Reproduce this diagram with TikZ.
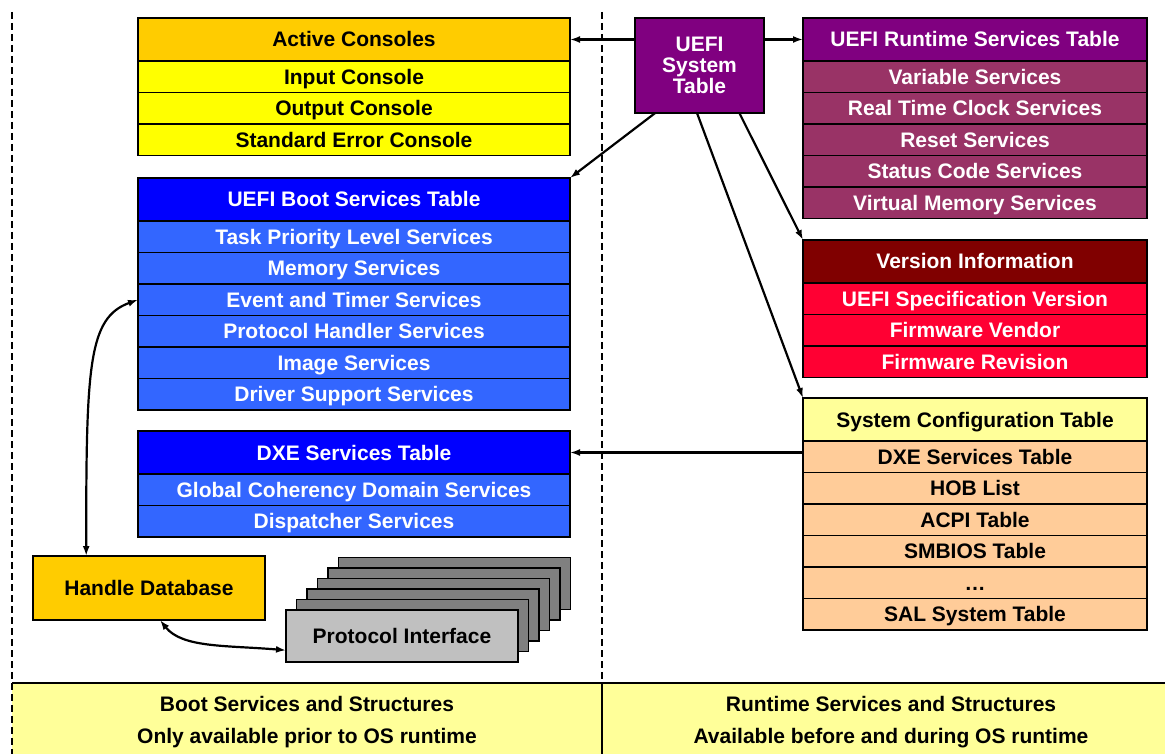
\documentclass[tikz,border=0pt]{standalone}
\usepackage{fontspec}
\setmainfont{Liberation Sans}
\usetikzlibrary{arrows.meta,positioning}
\definecolor{conHdr}{HTML}{FFCC00}
\definecolor{conRow}{HTML}{FFFF00}
\definecolor{bootHdr}{HTML}{0000FF}
\definecolor{bootRow}{HTML}{3366FF}
\definecolor{rtHdr}{HTML}{800080}
\definecolor{rtRow}{HTML}{993366}
\definecolor{verHdr}{HTML}{800000}
\definecolor{verRow}{HTML}{FF0033}
\definecolor{cfgHdr}{HTML}{FFFF99}
\definecolor{cfgRow}{HTML}{FFCC99}
\definecolor{piFront}{HTML}{C0C0C0}
\definecolor{piBack}{HTML}{808080}

\begin{document}
\begin{tikzpicture}[x=1pt,y=1pt,yscale=-1, % flip y axis, one pt per pixel
    font=\fontsize{21}{21}\selectfont\bfseries,
    box/.style={draw, line width=1.6pt, outer sep=0pt, inner sep=0pt, text height=19pt, text depth=4pt},
    lhdr/.style={box, minimum width=432pt, minimum height=43pt},
    lrow/.style={box, minimum width=432pt, minimum height=31.5pt},
    rhdr/.style={box, minimum width=344pt, minimum height=43pt},
    rrow/.style={box, minimum width=344pt, minimum height=31.5pt},
    arr/.style={line width=2.2pt, -{Latex[length=10pt,width=7pt]}},
    darr/.style={line width=2.2pt, {Latex[length=10pt,width=7pt]}-{Latex[length=10pt,width=7pt]}},
    sep/.style={line width=2pt, dash pattern=on 7pt off 4pt}]
  \useasboundingbox (0,0) rectangle (1165,754);

  % bottom band and separators
  \fill[cfgHdr] (12,683) rectangle (1165,754);
  \draw[line width=2pt] (12,683) -- (1165,683);
  \draw[line width=2pt] (602,683) -- (602,754);
  \draw[sep] (12,12) -- (12,754);
  \draw[sep] (602,12) -- (602,683);
  \node (bootlbl) at (307,704) {Boot Services and Structures};
  \node (bootsub) at (307,738) {Only available prior to OS runtime};
  \node (rtlbl) at (891,704) {Runtime Services and Structures};
  \node (rtsub) at (891,738) {Available before and during OS runtime};

  % boot side tables
  \node[lhdr, fill=conHdr] (ac0) at (354,39.5) {Active Consoles};
  \foreach \txt [count=\i] in {Input Console, Output Console, Standard Error Console}{
      \pgfmathtruncatemacro\j{\i-1}
      \node[lrow, fill=conRow, below=0pt of ac\j] (ac\i) {\txt};
    }
  \node[lhdr, fill=bootHdr, text=white] (bs0) at (354,199.5) {UEFI Boot Services Table};
  \foreach \txt [count=\i] in {Task Priority Level Services, Memory Services, Event and Timer Services,
      Protocol Handler Services, Image Services, Driver Support Services}{
      \pgfmathtruncatemacro\j{\i-1}
      \node[lrow, fill=bootRow, text=white, below=0pt of bs\j] (bs\i) {\txt};
    }
  \node[lhdr, fill=bootHdr, text=white] (dxe0) at (354,452.5) {DXE Services Table};
  \foreach \txt [count=\i] in {Global Coherency Domain Services, Dispatcher Services}{
      \pgfmathtruncatemacro\j{\i-1}
      \node[lrow, fill=bootRow, text=white, below=0pt of dxe\j] (dxe\i) {\txt};
    }

  % handle database and protocol stack
  \node[box, fill=conHdr, minimum width=232pt, minimum height=64pt] (hdb) at (149,588) {Handle Database};
  \foreach \k in {5,...,1}
    \node[box, fill=piBack, minimum width=232pt, minimum height=52pt] (pib\k) at (402+\k*10.5,636-\k*10.5) {};
  \node[box, fill=piFront, minimum width=232pt, minimum height=52pt] (pi) at (402,636) {Protocol Interface};

  % runtime side tables
  \node[box, fill=rtHdr, text=white, minimum width=129pt, minimum height=95pt, align=center,
    text height=, text depth=] (st) at (699.5,65.5) {UEFI\\System\\Table};
  \node[rhdr, fill=rtHdr, text=white] (rt0) at (975,39.5) {UEFI Runtime Services Table};
  \foreach \txt [count=\i] in {Variable Services, Real Time Clock Services, Reset Services,
      Status Code Services, Virtual Memory Services}{
      \pgfmathtruncatemacro\j{\i-1}
      \node[rrow, fill=rtRow, text=white, below=0pt of rt\j] (rt\i) {\txt};
    }
  \node[rhdr, fill=verHdr, text=white] (ver0) at (975,261.5) {Version Information};
  \foreach \txt [count=\i] in {UEFI Specification Version, Firmware Vendor, Firmware Revision}{
      \pgfmathtruncatemacro\j{\i-1}
      \node[rrow, fill=verRow, text=white, below=0pt of ver\j] (ver\i) {\txt};
    }
  \node[rhdr, fill=cfgHdr] (cfg0) at (975,419.5) {System Configuration Table};
  \foreach \txt [count=\i] in {DXE Services Table, HOB List, ACPI Table, SMBIOS Table, …, SAL System Table}{
      \pgfmathtruncatemacro\j{\i-1}
      \node[rrow, fill=cfgRow, below=0pt of cfg\j] (cfg\i) {\txt};
    }

  % connectors
  \draw[arr] (st.west |- ac0.east) -- (ac0.east);
  \draw[arr] (st.east |- rt0.west) -- (rt0.west);
  \draw[arr] (st.227) -- (bs0.north east);
  \draw[arr] (st.267) -- (cfg0.north west);
  \draw[arr] (st.310) -- (ver0.north west);
  \draw[arr] (cfg1.west |- dxe0.east) -- (dxe0.east);
  \draw[darr] (hdb.153) .. controls +(0,-190) and +(-50,18) .. (bs3.west);
  \draw[darr] (hdb.289) .. controls +(22,28) and +(-60,-5) .. (pi.187);
\end{tikzpicture}
\end{document}
